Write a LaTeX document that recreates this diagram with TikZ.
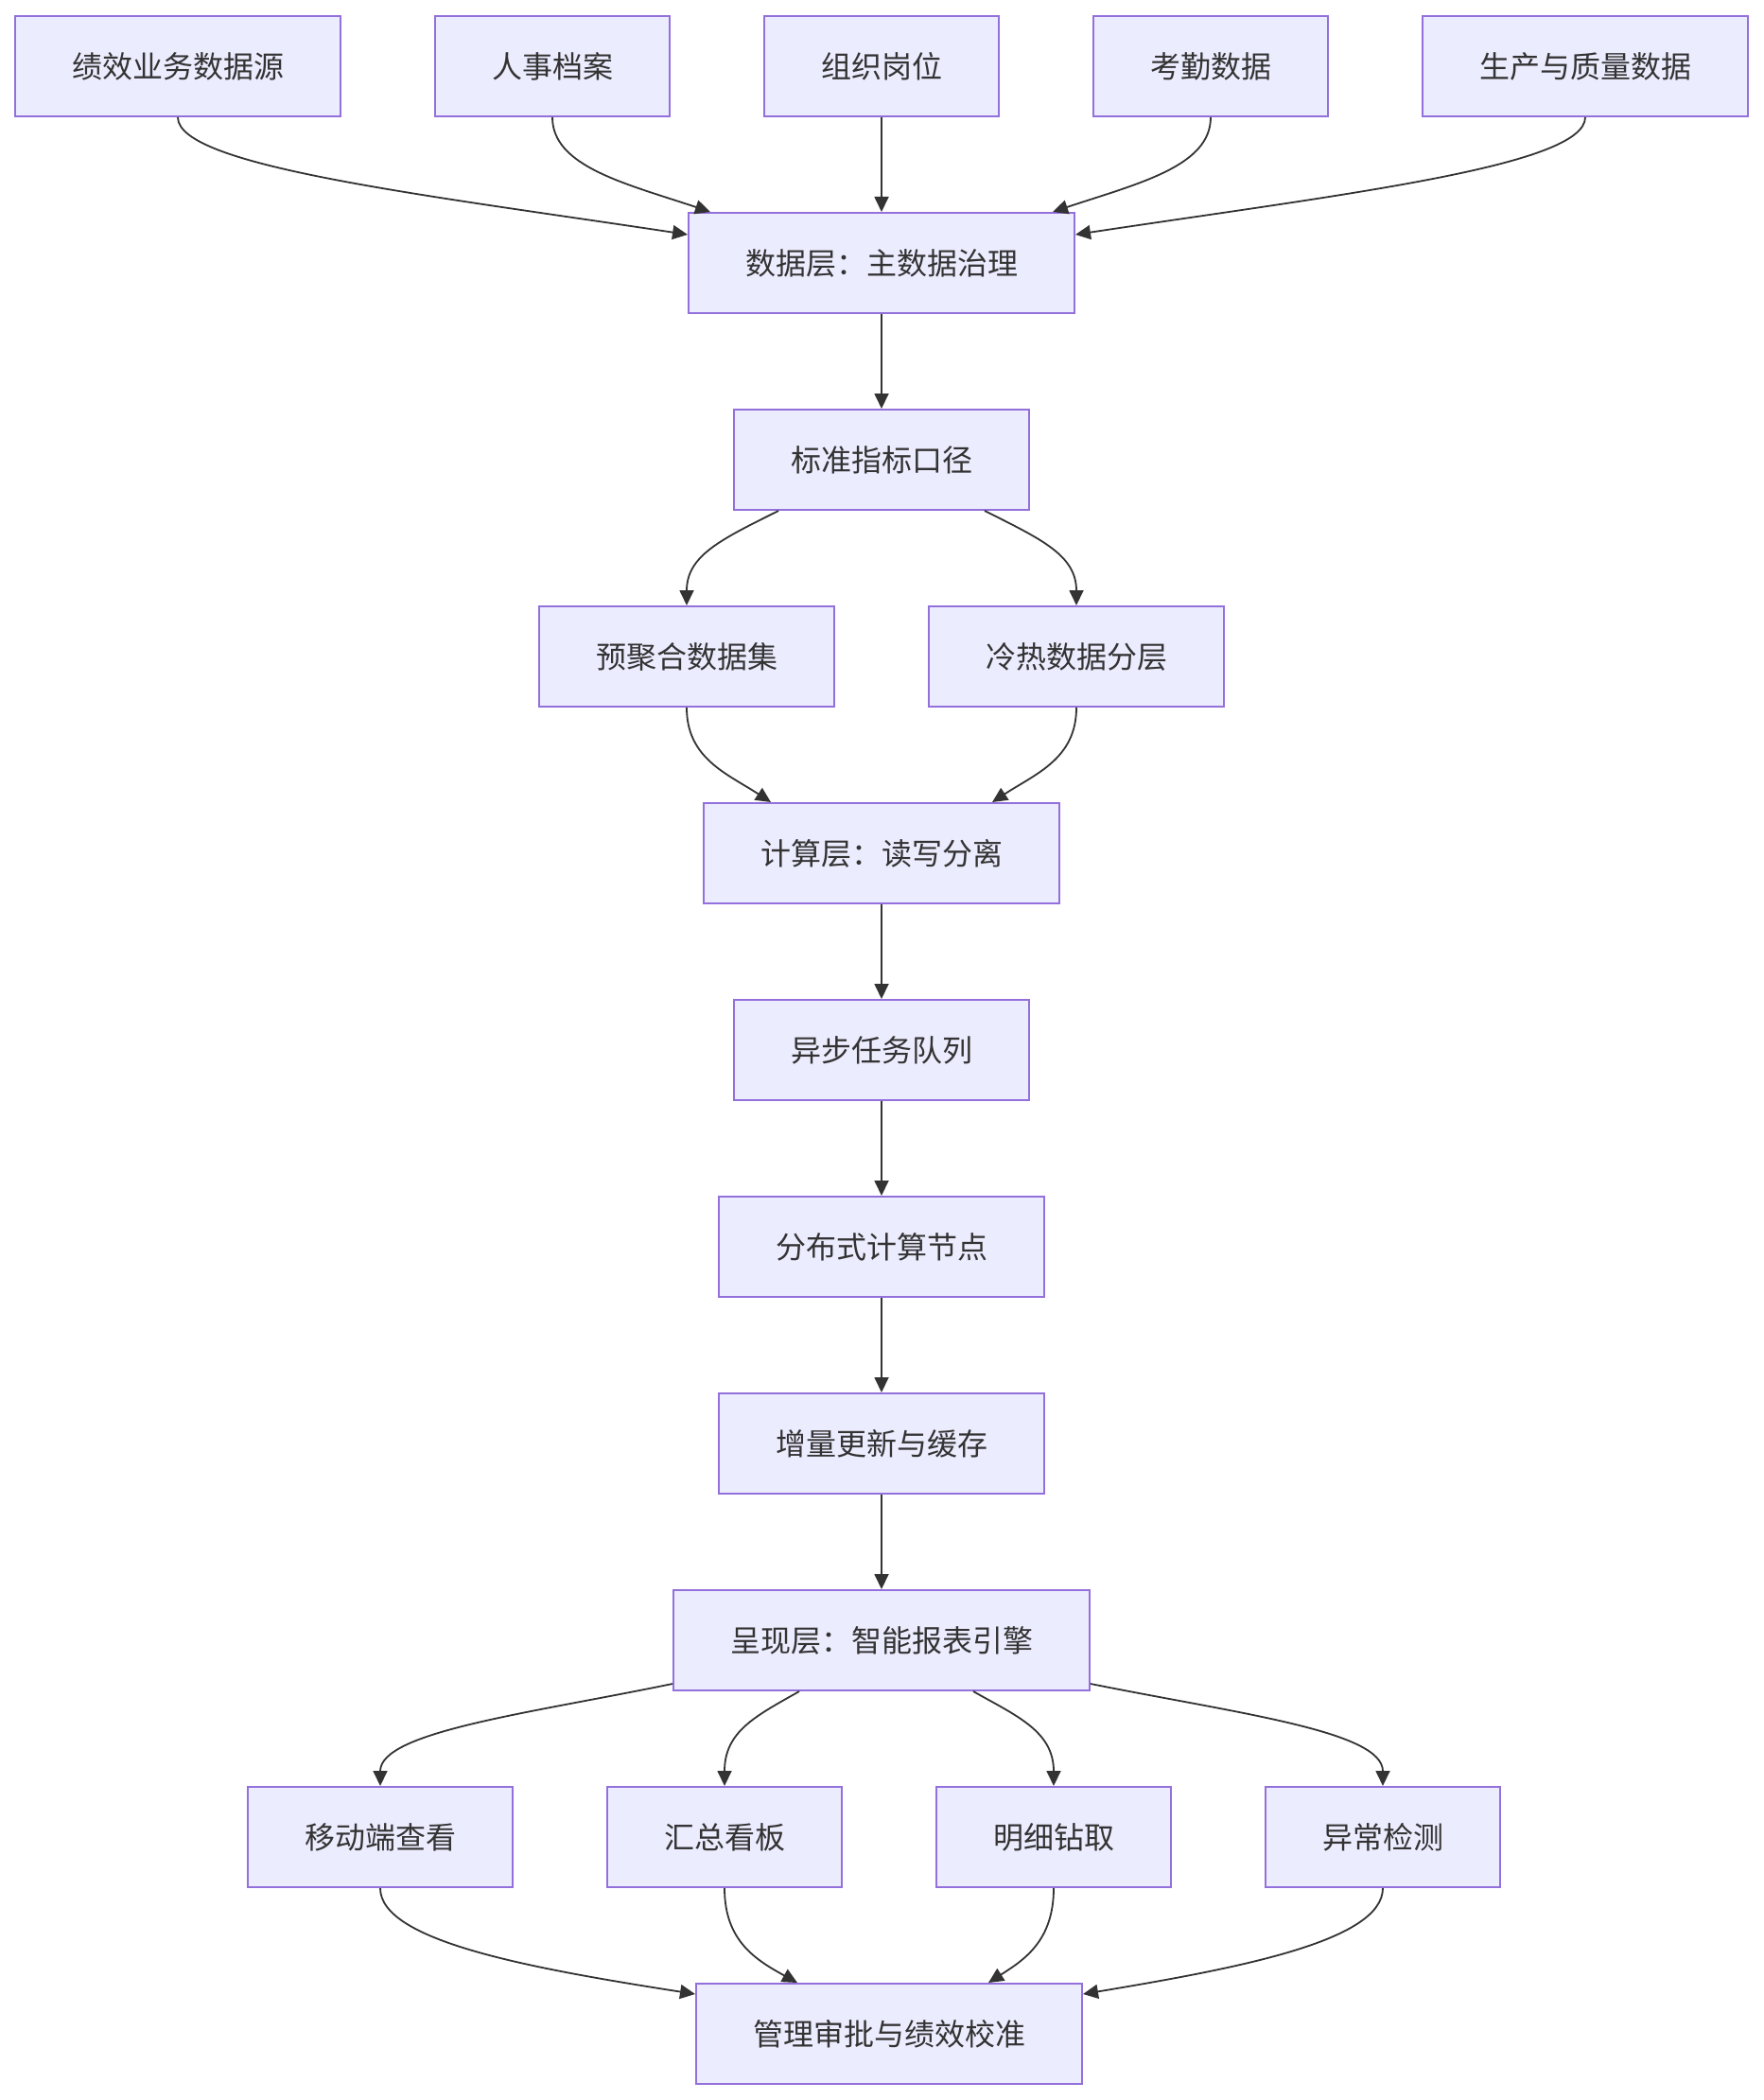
\documentclass[tikz,border=0pt]{standalone}
\usepackage{fontspec}
\setmainfont{Noto Sans CJK SC}
\usetikzlibrary{arrows.meta,positioning}
\definecolor{FlowLavender}{HTML}{ECECFF}
\definecolor{FlowPurple}{HTML}{9370DB}
\definecolor{FlowInk}{HTML}{333333}
\tikzset{
    % Mermaid-like boxes
    stage/.style={
        rectangle,
        draw=FlowPurple,
        line width=1pt,
        fill=FlowLavender,
        text=FlowInk,
        minimum height=53pt,
        inner xsep=30pt,
        inner ysep=2pt,
        font=\fontsize{16pt}{19pt}\selectfont
    },
    arrow/.style={
        -{Triangle[length=8pt,width=7.5pt]},
        line width=0.9pt,
        color=FlowInk
    }
}

\begin{document}
\begin{tikzpicture}[x=1pt, y=1pt, node distance=50pt and 49pt]
        \path[fill=white, use as bounding box] (0,0) rectangle (932,-1110);

        % Sources
        \node[stage] (org) at (466,-35) {组织岗位};
        \node[stage, left=of org] (hr) {人事档案};
        \node[stage, left=of hr] (perf) {绩效业务数据源};
        \node[stage, right=of org] (attend) {考勤数据};
        \node[stage, right=of attend] (prod) {生产与质量数据};

        % Data layer
        \node[stage, below=of org] (data) {数据层：主数据治理};
        \node[stage, below=of data] (std) {标准指标口径};
        \node[stage, below=of std, xshift=-103pt] (pre) {预聚合数据集};
        \node[stage, below=of std, xshift=103pt] (cold) {冷热数据分层};

        % Compute layer
        \node[stage, below=of pre, xshift=103pt] (comp) {计算层：读写分离};
        \node[stage, below=of comp] (queue) {异步任务队列};
        \node[stage, below=of queue] (dist) {分布式计算节点};
        \node[stage, below=of dist] (incr) {增量更新与缓存};

        % Presentation layer
        \node[stage, below=of incr] (pres) {呈现层：智能报表引擎};
        \node[stage, below=of pres, xshift=-83pt] (board) {汇总看板};
        \node[stage, left=of board] (mobile) {移动端查看};
        \node[stage, right=of board] (drill) {明细钻取};
        \node[stage, right=of drill] (anom) {异常检测};
        \node[stage, below=of board, xshift=87pt] (final) {管理审批与绩效校准};

        % Arrows
        \draw[arrow] (perf.south) .. controls +(0,-26pt) and +(-139pt,21pt) .. ([yshift=15pt]data.west);
        \draw[arrow] (hr.south) .. controls +(0,-26pt) and +(-45pt,15pt) .. ([xshift=12pt]data.north west);
        \draw[arrow] (org) -- (data);
        \draw[arrow] (attend.south) .. controls +(0,-26pt) and +(45pt,15pt) .. ([xshift=-12pt]data.north east);
        \draw[arrow] (prod.south) .. controls +(0,-26pt) and +(139pt,21pt) .. ([yshift=15pt]data.east);
        \draw[arrow] (data) -- (std);
        \draw[arrow] ([xshift=24pt]std.south west) .. controls +(-30pt,-15pt) and +(0,26.5pt) .. (pre.north);
        \draw[arrow] ([xshift=-24pt]std.south east) .. controls +(30pt,-15pt) and +(0,26.5pt) .. (cold.north);
        \draw[arrow] (pre.south) .. controls +(0,-27pt) and +(-23pt,15pt) .. ([xshift=36pt]comp.north west);
        \draw[arrow] (cold.south) .. controls +(0,-27pt) and +(23pt,15pt) .. ([xshift=-36pt]comp.north east);
        \draw[arrow] (comp) -- (queue);
        \draw[arrow] (queue) -- (dist);
        \draw[arrow] (dist) -- (incr);
        \draw[arrow] (incr) -- (pres);
        \draw[arrow] ([yshift=4pt]pres.south west) .. controls +(-76pt,-15.7pt) and +(0,28.7pt) .. (mobile.north);
        \draw[arrow] ([xshift=67pt]pres.south west) .. controls +(-22.7pt,-12.9pt) and +(0,29pt) .. (board.north);
        \draw[arrow] ([xshift=-62pt]pres.south east) .. controls +(22.7pt,-12.9pt) and +(0,29pt) .. (drill.north);
        \draw[arrow] ([yshift=4pt]pres.south east) .. controls +(78pt,-15.7pt) and +(0,29pt) .. (anom.north);
        \draw[arrow] (mobile.south) .. controls +(0,-28pt) and +(-87.6pt,13.7pt) .. ([yshift=-6pt]final.north west);
        \draw[arrow] (board.south) .. controls +(0,-28pt) and +(-21.8pt,12pt) .. ([xshift=54pt]final.north west);
        \draw[arrow] (drill.south) .. controls +(0,-28pt) and +(18.7pt,12pt) .. ([xshift=-50pt]final.north east);
        \draw[arrow] (anom.south) .. controls +(0,-28pt) and +(82pt,13.7pt) .. ([yshift=-6pt]final.north east);
    \end{tikzpicture}
\end{document}
